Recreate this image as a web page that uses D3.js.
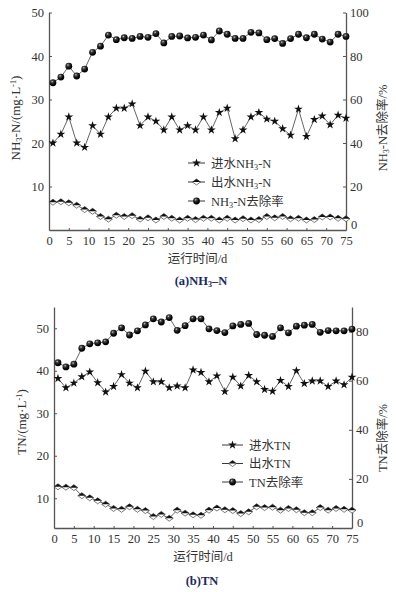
<!DOCTYPE html>
<html>
<head>
<meta charset="utf-8">
<script src="https://cdn.jsdelivr.net/npm/d3@7"></script>
<style>
  body { margin: 0; background: #fff; }
  svg text { font-family: "Liberation Serif", "Noto Sans CJK SC", serif; fill: #333; }
</style>
</head>
<body>
<div id="chart"></div>
<script>
// sampling days (every second day)
var days = [1, 3, 5, 7, 9, 11, 13, 15, 17, 19, 21, 23, 25, 27, 29, 31, 33, 35, 37,
    39, 41, 43, 45, 47, 49, 51, 53, 55, 57, 59, 61, 63, 65, 67, 69, 71, 73, 75];
var xTicks = [0, 5, 10, 15, 20, 25, 30, 35, 40, 45, 50, 55, 60, 65, 70, 75];

// (a) NH3-N
var nh3In = [20, 22, 26, 20, 19, 24, 22, 26, 28, 28, 29, 24, 26, 25, 23, 26, 23, 24, 23,
    26, 23, 27, 28, 21, 23, 26, 27, 25.5, 25, 23.3, 21.8, 27.8, 21.5, 25.4, 26.2, 24.2, 26.4, 25.7];
var nh3Out = [6.4, 6.5, 6.25, 5.7, 4.7, 4.3, 3.1, 2.5, 3.4, 3.1, 3.3, 2.5, 2.8, 2.3, 3.1, 2.7, 2.3, 2.7, 2.4,
    2.7, 2.7, 2.3, 2.7, 2.3, 2.6, 2.3, 2.4, 3.1, 2.8, 3.1, 2.6, 2.7, 2.3, 2.4, 3.0, 3.0, 2.7, 2.6];
var nh3Rate = [67.7, 70.3, 75.3, 70.8, 74, 81.7, 84.5, 89.6, 87.5, 88.4, 88.1, 89, 88.6, 90.3, 86, 89, 89.2, 88.3, 88.6,
    89.6, 87.4, 91.5, 90, 88.1, 88.1, 90.9, 90.6, 87.5, 88, 85.8, 88, 90, 88.4, 90, 87.8, 86.4, 90, 89];
var nh3LeftTicks = [10, 20, 30, 40, 50];
var nh3RightTicks = [0, 20, 40, 60, 80, 100];

// (b) TN
var tnIn = [38.2, 36.0, 37.1, 38.6, 39.7, 37.2, 35.0, 36.3, 39.1, 37.1, 36.0, 39.9, 37.4, 37.4, 36.0, 36.4, 36.0, 40.2, 39.6,
    37.4, 38.8, 35.1, 38.5, 36.4, 38.9, 37.4, 35.6, 35.2, 37.7, 36.3, 40.0, 37.0, 37.6, 37.6, 36.3, 37.6, 36.7, 38.5];
var tnOut = [12.7, 12.6, 12.5, 10.6, 10.1, 9.4, 8.6, 7.6, 7.4, 8.0, 7.4, 7.1, 5.7, 6.2, 5.3, 7.2, 6.5, 6.1, 6.0,
    7.2, 7.7, 7.3, 7.1, 6.4, 6.8, 8.0, 7.8, 7.9, 7.2, 7.6, 7.3, 6.6, 6.6, 7.8, 7.2, 7.6, 7.4, 7.2];
var tnRate = [67.3, 65.6, 66.7, 73.2, 75, 75.4, 75.8, 79.3, 81.5, 78.6, 80.3, 82.7, 85.2, 83.9, 85.7, 80.5, 82.4, 85.2, 85.2,
    81.1, 80.4, 79.6, 82.3, 82.9, 83.3, 78.8, 78.5, 78, 81.5, 79.5, 82.2, 82.6, 82.9, 79.7, 80.4, 80.3, 80.3, 81];
var tnLeftTicks = [10, 20, 30, 40, 50];
var tnRightTicks = [0, 20, 40, 60, 80];

var W = 396, H = 592;
var svg = d3.select('#chart').append('svg').attr('width', W).attr('height', H);
svg.append('rect').attr('width', W).attr('height', H).attr('fill', '#fff');

var defs = svg.append('defs');
var grad = defs.append('radialGradient').attr('id', 'ball')
    .attr('cx', '38%').attr('cy', '32%').attr('r', '65%');
grad.append('stop').attr('offset', '0%').attr('stop-color', '#d8d8d8');
grad.append('stop').attr('offset', '25%').attr('stop-color', '#444');
grad.append('stop').attr('offset', '70%').attr('stop-color', '#0a0a0a');
grad.append('stop').attr('offset', '100%').attr('stop-color', '#000');

// text with sub/superscripts: parts = [[text, 'sub'|'sup'|undefined], ...]
function rich(sel, parts) {
    parts.forEach(function (p) {
        var t = sel.append('tspan').text(p[0]);
        if (p[1] == 'sub') {
            t.attr('font-size', '0.65em').attr('baseline-shift', '-25%');
        } else if (p[1] == 'sup') {
            t.attr('font-size', '0.65em').attr('baseline-shift', '45%');
        }
    });
    return sel;
}

function drawStar(g, x, y) {
    g.append('path').attr('d', d3.symbol().type(d3.symbolStar).size(24)())
        .attr('transform', 'translate(' + x + ',' + y + ')')
        .attr('fill', '#111');
}

function drawDiamond(g, x, y) {
    var w = 4, h = 3;
    g.append('path')
        .attr('d', 'M' + (x - w) + ',' + y + 'L' + x + ',' + (y - h) + 'L' + (x + w) + ',' + y + 'L' + x + ',' + (y + h) + 'Z')
        .attr('fill', '#fff').attr('stroke', '#222').attr('stroke-width', 0.6);
    g.append('path')
        .attr('d', 'M' + (x - w) + ',' + y + 'L' + x + ',' + (y - h) + 'L' + (x + w) + ',' + y + 'Z')
        .attr('fill', '#111');
}

function drawBall(g, x, y) {
    g.append('circle').attr('cx', x).attr('cy', y).attr('r', 3.4)
        .attr('fill', 'url(#ball)');
}

function drawPanel(cfg) {
    var g = svg.append('g');
    var x = d3.scaleLinear().domain([0, 75]).range([cfg.x0, cfg.x1]);
    var yL = d3.scaleLinear().domain(cfg.leftDomain).range([cfg.y0, cfg.y1]);
    var yR = d3.scaleLinear().domain(cfg.rightDomain).range([cfg.y0, cfg.y1]);

    // axes
    var axX = g.append('g').attr('transform', 'translate(0,' + cfg.y0 + ')')
        .call(d3.axisBottom(x).tickValues(xTicks).tickSizeInner(-2).tickSizeOuter(0).tickPadding(6));
    var axL = g.append('g').attr('transform', 'translate(' + cfg.x0 + ',0)')
        .call(d3.axisLeft(yL).tickValues(cfg.leftTicks).tickSizeInner(-3).tickSizeOuter(0).tickPadding(5));
    var axR = g.append('g').attr('transform', 'translate(' + cfg.x1 + ',0)')
        .call(d3.axisRight(yR).tickValues(cfg.rightTicks).tickSizeInner(-3).tickSizeOuter(0).tickPadding(4));
    [axX, axL, axR].forEach(function (a) {
        a.selectAll('path.domain').attr('stroke', '#555').attr('stroke-width', 1.3);
        a.selectAll('line').attr('stroke', '#555');
        a.selectAll('text').attr('font-size', 12.5).attr('fill', '#333')
            .attr('font-family', '"Liberation Serif", serif');
    });
    axR.selectAll('text').attr('dy', function (d) { return d == 0 ? '-0.1em' : '0.32em'; })
        .attr('x', function (d) { return d == 0 ? 5 : 4; });

    // series
    var line = function (scale, vals) {
        return d3.line().x(function (d, i) { return x(days[i]); })
            .y(function (d) { return scale(d); })(vals);
    };
    [[yL, cfg.inVals], [yL, cfg.outVals], [yR, cfg.rateVals]].forEach(function (s) {
        g.append('path').attr('d', line(s[0], s[1]))
            .attr('fill', 'none').attr('stroke', '#222').attr('stroke-width', 0.7);
    });
    var mk = g.append('g');
    cfg.inVals.forEach(function (v, i) { drawStar(mk, x(days[i]), yL(v)); });
    cfg.outVals.forEach(function (v, i) { drawDiamond(mk, x(days[i]), yL(v)); });
    cfg.rateVals.forEach(function (v, i) { drawBall(mk, x(days[i]), yR(v)); });

    // legend
    var lg = g.append('g');
    var drawers = [drawStar, drawDiamond, drawBall];
    cfg.legend.forEach(function (parts, i) {
        var ly = cfg.legY + i * cfg.legStep;
        lg.append('line').attr('x1', cfg.legX).attr('x2', cfg.legX + cfg.legW)
            .attr('y1', ly).attr('y2', ly).attr('stroke', '#222').attr('stroke-width', 0.9);
        drawers[i](lg, cfg.legX + cfg.legW / 2, ly);
        rich(lg.append('text').attr('x', cfg.legX + cfg.legW + 6).attr('y', ly + 4.5)
            .attr('font-size', 12.5), parts);
    });

    // axis titles
    g.append('text').attr('x', (cfg.x0 + cfg.x1) / 2).attr('y', cfg.xTitleY)
        .attr('text-anchor', 'middle').attr('font-size', 12.5).text('运行时间/d');
    rich(g.append('text').attr('text-anchor', 'middle').attr('font-size', 13)
        .attr('transform', 'translate(' + cfg.leftTitle[0] + ',' + cfg.leftTitle[1] + ') rotate(-90)'), cfg.leftLabel);
    rich(g.append('text').attr('text-anchor', 'middle').attr('font-size', 12.5)
        .attr('transform', 'translate(' + cfg.rightTitle[0] + ',' + cfg.rightTitle[1] + ') rotate(-90)'), cfg.rightLabel);

    // caption
    var cap = g.append('text').attr('x', cfg.capX).attr('y', cfg.capY)
        .attr('text-anchor', 'middle').attr('font-size', 12.5);
    cap.append('tspan').text('(' + cfg.capTag + ')');
    rich(cap, cfg.capParts);
    cap.selectAll('tspan').attr('fill', '#1c2a5e').attr('font-weight', 'bold');
}

drawPanel({
    x0: 49, x1: 346, y0: 230, y1: 12.5,
    leftDomain: [0, 50], rightDomain: [0, 100],
    leftTicks: nh3LeftTicks, rightTicks: nh3RightTicks,
    inVals: nh3In, outVals: nh3Out, rateVals: nh3Rate,
    legX: 188, legW: 17, legY: 163, legStep: 19,
    legend: [
        [['进水NH'], ['3', 'sub'], ['-N']],
        [['出水NH'], ['3', 'sub'], ['-N']],
        [['NH'], ['3', 'sub'], ['-N去除率']]
    ],
    xTitleY: 263,
    leftTitle: [20, 118], leftLabel: [['NH'], ['3', 'sub'], ['-N/(mg·L'], ['-1', 'sup'], [')']],
    rightTitle: [387, 128], rightLabel: [['NH'], ['3', 'sub'], ['-N去除率/%']],
    capX: 201, capY: 285, capTag: 'a', capParts: [['NH'], ['3', 'sub'], ['–N']]
});

drawPanel({
    x0: 54, x1: 352, y0: 528, y1: 307,
    leftDomain: [3, 55], rightDomain: [0, 90],
    leftTicks: tnLeftTicks, rightTicks: tnRightTicks,
    inVals: tnIn, outVals: tnOut, rateVals: tnRate,
    legX: 222, legW: 21, legY: 445, legStep: 18.5,
    legend: [
        [['进水TN']],
        [['出水TN']],
        [['TN去除率']]
    ],
    xTitleY: 561,
    leftTitle: [26, 422], leftLabel: [['TN/(mg·L'], ['-1', 'sup'], [')']],
    rightTitle: [387, 438], rightLabel: [['TN去除率/%']],
    capX: 202, capY: 585, capTag: 'b', capParts: [['TN']]
});
</script>
</body>
</html>
